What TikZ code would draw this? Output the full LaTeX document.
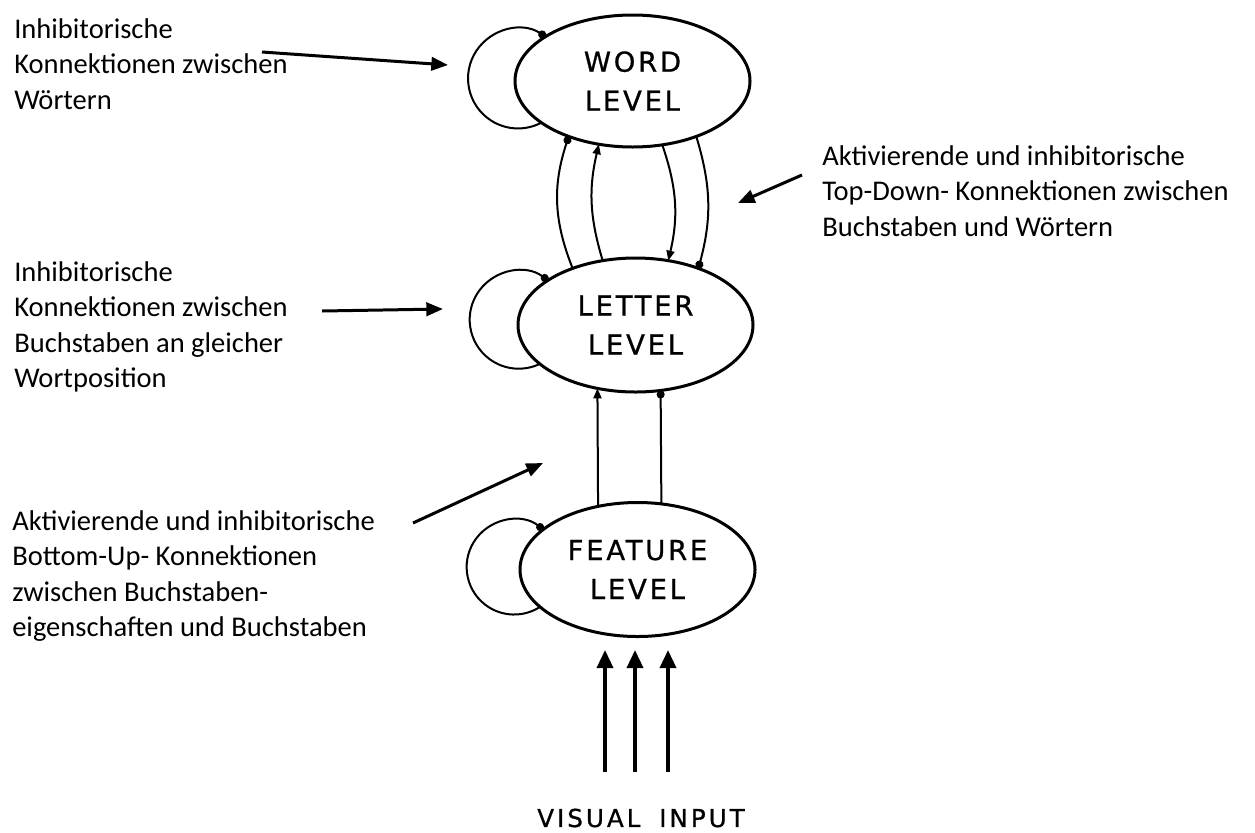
\documentclass[tikz,border=0pt]{standalone}
\usepackage{fontspec}
\setmainfont{Carlito}
\newfontfamily\levelfont[LetterSpace=10,FakeBold=0.8]{DejaVu Sans}
\newfontfamily\inputfont[LetterSpace=12,FakeBold=0.8]{DejaVu Sans}
\usetikzlibrary{arrows.meta,shapes.geometric}

\tikzset{
  level/.style={draw, ellipse, line width=2.25pt, inner sep=0pt, outer sep=0pt,
    minimum width=176.25pt, align=center,
    font=\levelfont\fontsize{20.6}{29.25}\selectfont},
  note/.style={anchor=base west, inner sep=0pt, align=left,
    font=\fontsize{21.4}{26.6}\selectfont},
  loopline/.style={line width=1.5pt, {Circle[length=6pt]}-},
  conn/.style={line width=1.5pt},
  excite/.style={conn, -{Triangle[length=7.5pt,width=6pt]}},
  inhibit/.style={conn, -{Circle[length=6pt]}},
  pointer/.style={line width=2.25pt, -{Triangle[length=12.5pt,width=10pt]}},
  inputarrow/.style={line width=2.6pt, -{Triangle[length=13.5pt,width=12pt]}}
}

\begin{document}
\begin{tikzpicture}[x=0.75pt, y=0.75pt]
  \useasboundingbox (0,0) rectangle (1255,-832);

  % the three processing levels
  \node[level, minimum height=99pt]    (word)    at (632.5,-81)   {WORD\\LEVEL};
  \node[level, minimum height=100.5pt] (letter)  at (635.5,-325)  {LETTER\\LEVEL};
  \node[level, minimum height=100.5pt] (feature) at (637.5,-569.5) {FEATURE\\LEVEL};

  % lateral inhibition within each level
  \draw[loopline] (word.153.5)    arc[start angle=56.7, end angle=298.7, radius=50];
  \draw[loopline] (letter.153.4)  arc[start angle=53.4, end angle=296.3, radius=49];
  \draw[loopline] (feature.157.4) arc[start angle=52.2, end angle=304,   radius=47.5];

  % connections between letter and word level
  \draw[inhibit] (letter.138.4) to[bend left=20] (word.221.8);
  \draw[excite]  (letter.117.6) to[bend left=15] (word.242.9);
  \draw[excite]  (word.295.6)   to[bend left=16] (letter.63.2);
  \draw[inhibit] (word.319.4)   to[bend left=16] (letter.42.2);

  % connections between feature and letter level
  \draw[excite]  (feature.122)  -- (letter.239.4);
  \draw[inhibit] (feature.70.3) -- (letter.291.3);

  % visual input
  \node[font=\inputfont\fontsize{18.5}{22}\selectfont, inner sep=0pt] (vis) at (641,-818)
    {\spaceskip=14pt VISUAL INPUT};
  \coordinate (in1a) at (605,-772); \coordinate (in1b) at (605,-650);
  \coordinate (in2a) at (635,-772); \coordinate (in2b) at (635,-650);
  \coordinate (in3a) at (668,-772); \coordinate (in3b) at (668,-650);
  \draw[inputarrow] (in1a) -- (in1b);
  \draw[inputarrow] (in2a) -- (in2b);
  \draw[inputarrow] (in3a) -- (in3b);

  % explanations (anchored at the baseline of their last line)
  \node[note] (t1) at (14,-109)   {Inhibitorische\\Konnektionen zwischen\\Wörtern};
  \node[note] (t2) at (14,-387.5) {Inhibitorische\\Konnektionen zwischen\\Buchstaben an gleicher\\Wortposition};
  \node[note] (t3) at (12,-636.5) {Aktivierende und inhibitorische\\Bottom-Up- Konnektionen\\zwischen Buchstaben-\\eigenschaften und Buchstaben};
  \node[note] (t4) at (822,-236)  {Aktivierende und inhibitorische\\Top-Down- Konnektionen zwischen\\Buchstaben und Wörtern};

  \coordinate (p1a) at (262,-52);  \coordinate (p1b) at (448,-65);
  \coordinate (p2a) at (322,-311); \coordinate (p2b) at (443,-309);
  \coordinate (p3a) at (413,-523); \coordinate (p3b) at (543,-463);
  \coordinate (p4a) at (802,-175); \coordinate (p4b) at (738,-203);
  \draw[pointer] (p1a) -- (p1b);
  \draw[pointer] (p2a) -- (p2b);
  \draw[pointer] (p3a) -- (p3b);
  \draw[pointer] (p4a) -- (p4b);
\end{tikzpicture}
\end{document}
